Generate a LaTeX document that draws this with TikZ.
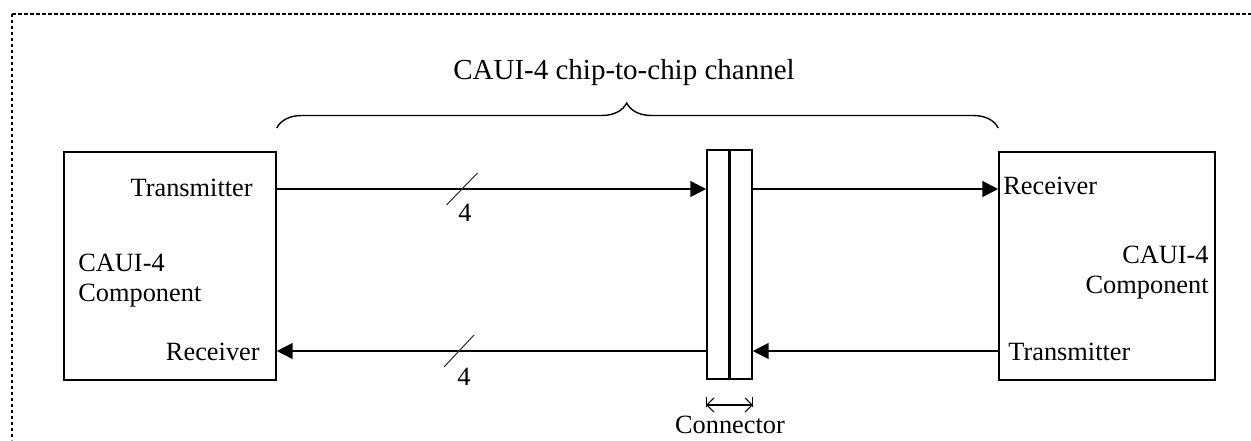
\documentclass[tikz,border=0pt]{standalone}
\usepackage{fontspec}
\setmainfont{Liberation Serif}
\usepackage{tikz}
\usetikzlibrary{arrows.meta, positioning, calc, decorations.pathreplacing}
\tikzset{
  compbox/.style={rectangle, draw=black, line width=0.9pt,
    minimum height=4.56cm, inner sep=0pt},
  connbox/.style={rectangle, draw=black, line width=0.9pt,
    minimum width=0.9cm, minimum height=4.58cm, inner sep=0pt},
  arrow/.style={-{Triangle[length=9pt, width=9pt]}, line width=0.9pt, color=black},
  line/.style={line width=0.9pt, color=black},
  slash/.style={line width=0.6pt, color=black!80},
  lbl/.style={font=\fontsize{15}{17}\selectfont, inner sep=0pt}
}

\begin{document}
\begin{tikzpicture}
  \useasboundingbox (0,0) rectangle (25.02,-8.8);
  % Frame (only top and left edges show)
  \draw[line width=1pt, dash pattern=on 0.08cm off 0.04cm] (0.24,-0.28) -- (25.02,-0.28);
  \draw[line width=1pt, dash pattern=on 0.06cm off 0.06cm] (0.24,-0.28) -- (0.24,-8.8);

  % Components and connector
  \node[compbox, minimum width=4.24cm] (lcomp) at (3.40,-5.32) {};
  \node[compbox, minimum width=4.32cm] (rcomp) at (22.14,-5.32) {};
  \node[connbox] (conn) at (14.59,-5.29) {};
  \draw[line width=2.2pt] (conn.north) -- (conn.south);

  % Rows of the links
  \coordinate (rowtop) at (0,-3.78);
  \coordinate (rowbot) at (0,-7.02);

  % Labels inside the boxes
  \node[lbl, anchor=east] (ltx) at (5.06,-3.76) {Transmitter};
  \node[lbl, anchor=east] (lrx) at (5.20,-7.04) {Receiver};
  \node[lbl, anchor=west, align=left] (lname) at (1.56,-5.62) {CAUI-4\\Component};
  \node[lbl, anchor=west] (rrx) at (20.06,-3.72) {Receiver};
  \node[lbl, anchor=west] (rtx) at (20.16,-7.04) {Transmitter};
  \node[lbl, anchor=east, align=right] (rname) at (24.18,-5.46) {CAUI-4\\Component};

  % Links
  \draw[arrow] (lcomp.east |- rowtop) -- (conn.west |- rowtop);
  \draw[arrow] (conn.east |- rowtop) -- (rcomp.west |- rowtop);
  \draw[arrow] (conn.west |- rowbot) -- (lcomp.east |- rowbot);
  \draw[arrow] (rcomp.west |- rowbot) -- (conn.east |- rowbot);

  % Lane count
  \coordinate (ltop) at (9.24,-3.78);
  \coordinate (lbot) at (9.18,-7.02);
  \draw[slash] ($(ltop)+(-0.31,-0.32)$) -- ($(ltop)+(0.31,0.32)$);
  \draw[slash] ($(lbot)+(-0.30,-0.32)$) -- ($(lbot)+(0.30,0.32)$);
  \node[lbl] (ntop) at (9.30,-4.26) {4};
  \node[lbl] (nbot) at (9.28,-7.54) {4};

  % Connector width
  \draw[line width=0.6pt] (conn.south west |- 0,-7.94) -- (conn.south west |- 0,-8.14);
  \draw[line width=0.6pt] (conn.south east |- 0,-7.94) -- (conn.south east |- 0,-8.14);
  \draw[{Straight Barb[length=4pt]}-{Straight Barb[length=4pt]}, line width=0.6pt]
    (conn.south west |- 0,-8.10) -- (conn.south east |- 0,-8.10);
  \node[lbl] (connlbl) at (14.60,-8.50) {Connector};

  % Channel brace
  \draw[line width=0.8pt, decorate, decoration={brace, amplitude=0.5cm, aspect=0.485}]
    (lcomp.east |- 0,-2.56) -- (rcomp.west |- 0,-2.56);
  \node[lbl, font=\fontsize{16.5}{19}\selectfont] (chan) at (12.48,-1.46) {CAUI-4 chip-to-chip channel};
\end{tikzpicture}
\end{document}
